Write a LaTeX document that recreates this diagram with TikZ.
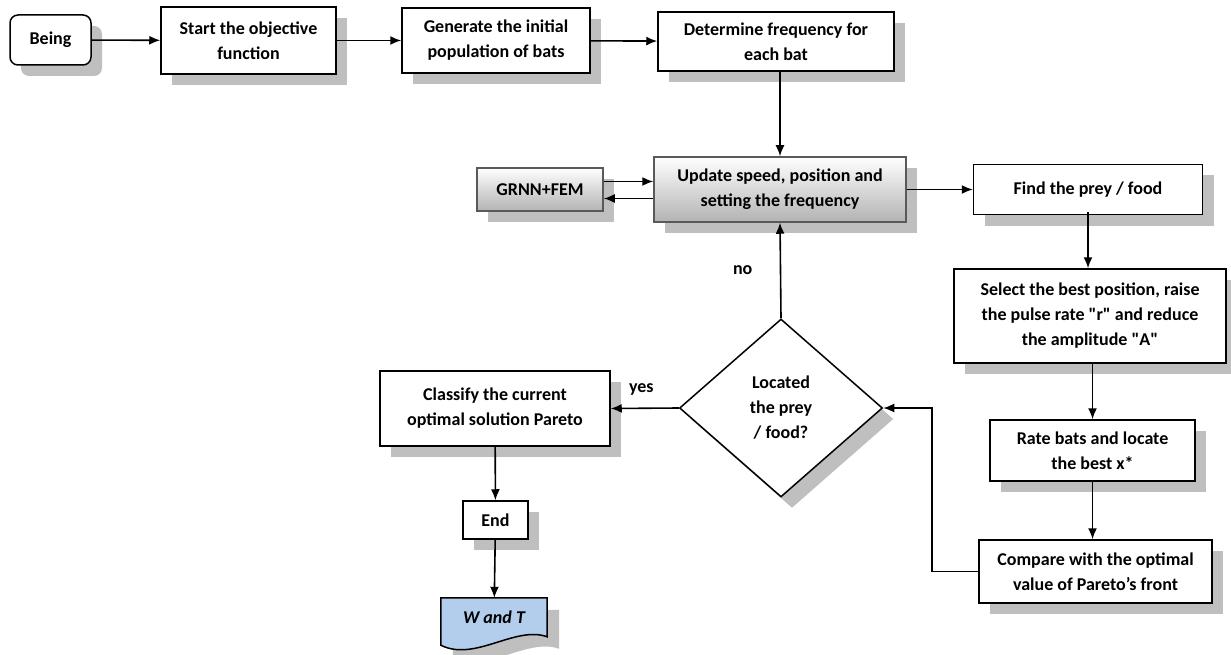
\documentclass[tikz,border=0pt]{standalone}
\usepackage{fontspec}
\setmainfont{Carlito}[Ligatures=TeXOff]
\usetikzlibrary{shapes.geometric,shadows,arrows.meta}
\tikzset{
  box/.style={draw, fill=white, line width=1.5pt, align=center, inner sep=0pt,
    font=\fontsize{18}{25}\selectfont\bfseries,
    drop shadow={shadow xshift=11pt, shadow yshift=-11pt, fill=gray!50, opacity=1}},
  grad/.style={box, top color=white, bottom color=gray!60, draw=gray!70!black},
  link/.style={-{Latex[length=11pt,width=9pt]}, line width=1.6pt},
  lbl/.style={font=\fontsize{18}{20}\selectfont\bfseries}
}
\begin{document}
\begin{tikzpicture}[x=1pt, y=-1pt]
		\useasboundingbox (0,0) rectangle (1231,655);
		\node[box, rounded corners=8pt, minimum width=81pt, minimum height=50pt] (x1) at (50.5,40) {Being};
		\node[box, minimum width=175pt, minimum height=67pt] (x2) at (248.5,40.5) {Start the objective\\function};
		\node[box, minimum width=188pt, minimum height=65pt] (x3) at (496,40.5) {Generate the initial\\population of bats};
		\node[box, minimum width=236pt, minimum height=59pt] (x4) at (776,41.5) {Determine frequency for\\each bat};
		\draw[link] (x1) -- (x2);
		\draw[link] (x2) -- (x3);
		\draw[link] (x3) -- (x4);
		
		\node[grad, minimum width=252pt, minimum height=65pt] (x5) at (780,189.5) {Update speed, position and\\setting the frequency};
		\node[grad, minimum width=126pt, minimum height=43pt] (x6) at (540,189.5) {GRNN+FEM};
		\draw[link] (x5.north |- x4.south) -- (x5.north);
		\draw[link] ([yshift=8pt]x6.east) -- ([yshift=8pt]x5.west);
		\draw[link] ([yshift=-9pt]x5.west) -- ([yshift=-9pt]x6.east);
		
		\node[box, minimum width=229pt, minimum height=50pt] (x7) at (1088,189.5) {Find the prey / food};
		\node[box, minimum width=272pt, minimum height=94pt] (x8) at (1090,316) {Select the best position, raise\\the pulse rate "r" and reduce\\the amplitude "A"};
		\node[box, minimum width=205pt, minimum height=61pt] (x9) at (1092.5,450.5) {Rate bats and locate\\the best x*};
		\node[box, minimum width=233pt, minimum height=63pt] (x10) at (1095.5,571.5) {Compare with the optimal\\value of Pareto’s front};
		\draw[link] (x5) -- (x7);
		\draw[link] (x8.north -| x7.south) ++(0,-56) -- (x8.north -| x7.south);
		\draw[link] (x8.south -| x9.north) -- (x9.north);
		\draw[link] (x10.north -| x9.south) ++(0,-59) -- (x10.north -| x9.south);
		
		\node[box, diamond, aspect=1.14, minimum width=203pt, minimum height=178pt] (x11) at (781,408) {Located\\the prey\\/ food?};
		\coordinate (c1) at (932,0);
		\draw[link] (x10.west) -- (x10.west -| c1) |- (x11.east);
		\draw[link] (x11.north) -- (x5.south) node[lbl, pos=0.5, left=24pt] {no};
		
		\node[box, minimum width=230pt, minimum height=75pt] (x12) at (495,408.5) {Classify the current\\optimal solution Pareto};
		\draw[link] (x11.west) -- (x12.east) node[lbl, pos=0.55, above=9pt] {yes};
		\node[box, minimum width=65pt, minimum height=38pt] (x13) at (495.5,520) {End};
		\draw[link] (x12) -- (x13);
		
		\node[minimum width=106pt, minimum height=40pt, inner sep=0pt] (x14) at (494,618) {};
		\fill[gray!50] ([shift={(12,12)}]x14.north west) -- ([shift={(12,12)}]x14.north east) -- ([shift={(12,51)}]x14.north east) .. controls ([shift={(-20,-1)}]x14.south east) and ([shift={(46,36)}]x14.south west) .. ([shift={(12,19)}]x14.south west) -- cycle;
		\draw[line width=1.5pt, fill={rgb,255:red,178;green,206;blue,236}] (x14.north west) -- (x14.north east) -- ([shift={(0,39)}]x14.north east) .. controls ([shift={(-32,-13)}]x14.south east) and ([shift={(34,24)}]x14.south west) .. ([shift={(0,7)}]x14.south west) -- cycle;
		\node[font=\fontsize{18}{20}\selectfont\bfseries\itshape] at ([yshift=1pt]x14) {W and T};
		\draw[link] (x13) -- (x14);
		\end{tikzpicture}
\end{document}
